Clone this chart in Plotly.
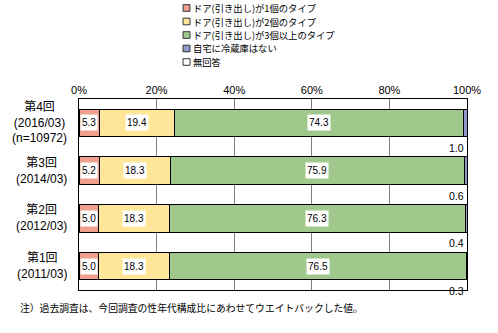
import plotly.graph_objects as go

# Survey rounds (top to bottom) and their axis labels
rounds = ["第4回", "第3回", "第2回", "第1回"]
round_labels = [
    "第4回<br>(2016/03)<br>(n=10972)",
    "第3回<br>(2014/03)",
    "第2回<br>(2012/03)",
    "第1回<br>(2011/03)",
]

# Response categories
series_names = [
    "ドア(引き出し)が1個のタイプ",
    "ドア(引き出し)が2個のタイプ",
    "ドア(引き出し)が3個以上のタイプ",
    "自宅に冷蔵庫はない",
    "無回答",
]
series_colors = ["#EEA08C", "#FFE699", "#A0C88C", "#8E9BC8", "#FFFFFF"]

# Shares (%) per round, same order as `rounds`
one_door = [5.3, 5.2, 5.0, 5.0]
two_door = [19.4, 18.3, 18.3, 18.3]
three_plus = [74.3, 75.9, 76.3, 76.5]
no_fridge = [1.0, 0.6, 0.4, 0.3]
no_answer = [0.0, 0.0, 0.0, 0.0]

series_values = [one_door, two_door, three_plus, no_fridge, no_answer]

tick_vals = [0, 20, 40, 60, 80, 100]
tick_text = ["0%", "20%", "40%", "60%", "80%", "100%"]

footnote = "注）過去調査は、今回調査の性年代構成比にあわせてウエイトバックした値。"

JP = "Noto Sans CJK JP"
MIX = "Liberation Sans, Noto Sans CJK JP"

fig = go.Figure()
for name, color, vals in zip(series_names, series_colors, series_values):
    fig.add_trace(go.Bar(
        y=rounds, x=vals, name=name, orientation="h",
        marker=dict(color=color, line=dict(color="#000000", width=1)),
        showlegend=False,
    ))

annotations = []
# Value labels in white boxes at segment centres (first three categories)
for i, r in enumerate(rounds):
    start = 0.0
    for k in range(3):
        v = series_values[k][i]
        annotations.append(dict(
            x=start + v / 2, y=r, xref="x", yref="y",
            text=f"{v:.1f}", showarrow=False,
            font=dict(family=MIX, size=10, color="#000"),
            bgcolor="#FFFFFF", borderpad=1, height=13,
        ))
        start += v
    # "no fridge" share written below the bar at the right edge
    annotations.append(dict(
        x=100, y=r, xref="x", yref="y", xanchor="right",
        text=f"{no_fridge[i]:.1f}", showarrow=False, yshift=-25, xshift=-1,
        font=dict(family=MIX, size=10.5, color="#000"),
    ))

# Round labels, centred text left of the plot
for r, lab in zip(rounds, round_labels):
    annotations.append(dict(
        x=-0.025, y=r, xref="paper", yref="y", xanchor="right",
        text=lab, align="center", showarrow=False,
        font=dict(family=MIX, size=12, color="#000"),
    ))

# Compact legend: colour square and label per line
leg_x = (183 - 79) / 388
line_px = 13.5
first_px = 8
for j, (name, color) in enumerate(zip(series_names, series_colors)):
    y_paper = (290 - (first_px + j * line_px)) / 191
    h = 3.3 / 191
    fig.add_shape(
        type="rect", xref="paper", yref="paper",
        x0=leg_x, x1=leg_x + 7 / 388, y0=y_paper - h, y1=y_paper + h,
        fillcolor=color, line=dict(color="#333333", width=1),
    )
    annotations.append(dict(
        x=leg_x + 8 / 388, y=y_paper, xref="paper", yref="paper",
        xanchor="left", yanchor="middle", text=name, showarrow=False,
        font=dict(family=JP, size=9.3, color="#000"),
    ))

annotations.append(dict(
    x=(18 - 79) / 388, y=(290 - 308) / 191, xref="paper", yref="paper",
    xanchor="left", yanchor="middle", text=footnote, showarrow=False,
    font=dict(family=JP, size=9.8, color="#000"),
))

fig.update_layout(
    width=498, height=333,
    margin=dict(l=79, r=31, t=99, b=43, autoexpand=False),
    barmode="stack", bargap=0.42,
    plot_bgcolor="#FFFFFF", paper_bgcolor="#FFFFFF",
    font=dict(family=MIX, size=11, color="#000"),
    xaxis=dict(
        range=[0, 100], side="top", tickvals=tick_vals, ticktext=tick_text,
        showgrid=True, gridcolor="#808080", gridwidth=1,
        showline=True, linecolor="#000", linewidth=1, mirror=True,
        zeroline=False, ticks="", tickfont=dict(family=MIX, size=11),
        automargin=False,
    ),
    yaxis=dict(
        categoryorder="array", categoryarray=rounds, range=[3.5, -0.5],
        showticklabels=False, showline=True, linecolor="#000", linewidth=1,
        mirror=True, ticks="", showgrid=False, automargin=False,
    ),
    annotations=annotations,
)

fig.write_html("out.html")
